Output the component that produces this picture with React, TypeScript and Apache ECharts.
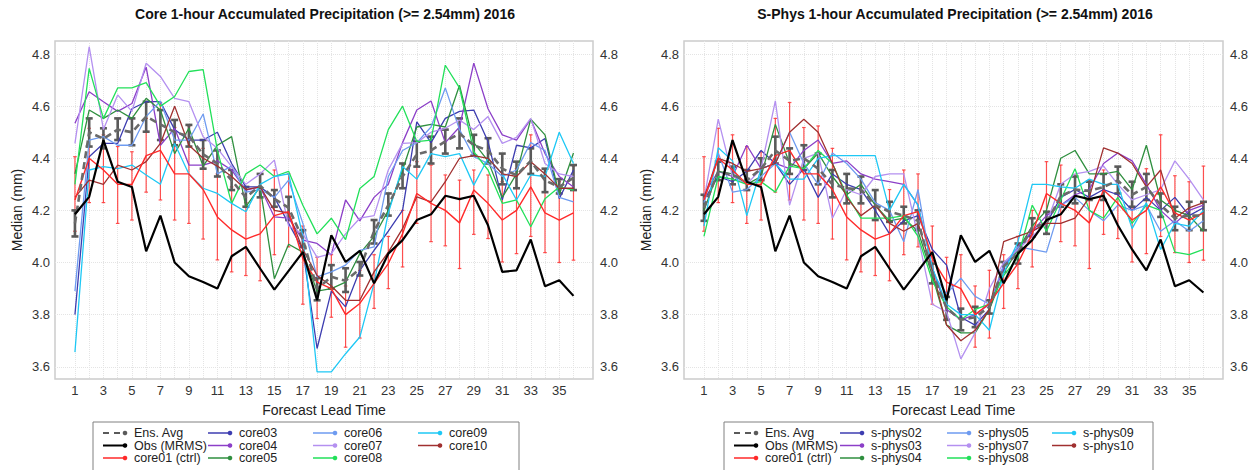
import React, { useEffect, useRef } from "react";
import * as echarts from "echarts";

const leadTimes = [1, 2, 3, 4, 5, 6, 7, 8, 9, 10, 11, 12, 13, 14, 15, 16, 17, 18, 19, 20, 21, 22, 23, 24, 25, 26, 27, 28, 29, 30, 31, 32, 33, 34, 35, 36];
const xTickLabels = [1, 3, 5, 7, 9, 11, 13, 15, 17, 19, 21, 23, 25, 27, 29, 31, 33, 35];
const yTickLabels = [3.6, 3.8, 4.0, 4.2, 4.4, 4.6, 4.8];

const titles = [
  "Core 1-hour Accumulated Precipitation (>= 2.54mm) 2016",
  "S-Phys 1-hour Accumulated Precipitation (>= 2.54mm) 2016",
];

// Observations (MRMS)
const obsLeft = [4.185, 4.252, 4.47, 4.31, 4.29, 4.043, 4.18, 4.0, 3.947, 3.925, 3.9, 4.024, 4.06, 3.977, 3.896, 3.968, 4.04, 3.855, 4.105, 4.002, 4.045, 3.92, 4.034, 4.086, 4.163, 4.185, 4.256, 4.243, 4.256, 4.143, 3.964, 3.97, 4.088, 3.909, 3.932, 3.872];
const obsRight = [4.185, 4.252, 4.47, 4.31, 4.29, 4.043, 4.18, 4.0, 3.947, 3.925, 3.9, 4.024, 4.06, 3.977, 3.896, 3.968, 4.04, 3.855, 4.105, 4.002, 4.045, 3.92, 4.034, 4.086, 4.163, 4.185, 4.256, 4.243, 4.256, 4.143, 4.05, 3.97, 4.088, 3.909, 3.932, 3.885];

// core01 (ctrl) with its spread
const ctrl = [4.24, 4.4, 4.355, 4.3, 4.3, 4.41, 4.43, 4.34, 4.34, 4.28, 4.175, 4.125, 4.09, 4.11, 4.18, 4.195, 4.015, 3.925, 3.9, 3.8, 3.843, 3.92, 3.996, 4.11, 4.265, 4.227, 4.2, 4.152, 4.278, 4.227, 4.163, 4.2, 4.29, 4.19, 4.163, 4.19];
const ctrlLo = [4.12, 4.23, 4.23, 4.15, 4.163, 4.27, 4.24, 4.163, 4.15, 4.09, 4.01, 3.964, 3.95, 3.93, 4.03, 4.06, 3.84, 3.785, 3.79, 3.675, 3.71, 3.824, 3.9, 3.983, 4.15, 4.08, 4.064, 3.977, 4.108, 4.092, 4.002, 4.034, 4.1, 4.038, 4.0, 4.009];
const ctrlHi = [4.406, 4.515, 4.49, 4.445, 4.425, 4.553, 4.614, 4.518, 4.524, 4.438, 4.34, 4.29, 4.23, 4.28, 4.355, 4.34, 4.14, 4.02, 4.03, 3.91, 3.97, 4.03, 4.1, 4.2, 4.387, 4.374, 4.336, 4.316, 4.355, 4.336, 4.31, 4.36, 4.49, 4.333, 4.31, 4.37];

// Ensemble average (core)
const ensCore = [4.15, 4.5, 4.475, 4.51, 4.5, 4.56, 4.53, 4.5, 4.485, 4.415, 4.38, 4.315, 4.25, 4.295, 4.245, 4.21, 4.09, 3.9, 3.945, 3.93, 3.975, 4.12, 4.22, 4.33, 4.415, 4.43, 4.465, 4.495, 4.45, 4.43, 4.36, 4.335, 4.39, 4.315, 4.29, 4.325];
const ensCoreLo = [4.1, 4.445, 4.438, 4.47, 4.45, 4.502, 4.47, 4.45, 4.445, 4.36, 4.33, 4.278, 4.214, 4.25, 4.214, 4.163, 4.06, 3.855, 3.9, 3.887, 3.95, 4.073, 4.18, 4.285, 4.368, 4.38, 4.418, 4.438, 4.41, 4.38, 4.3, 4.285, 4.34, 4.27, 4.265, 4.278];
const ensCoreHi = [4.2, 4.553, 4.515, 4.553, 4.553, 4.617, 4.585, 4.547, 4.528, 4.47, 4.43, 4.355, 4.29, 4.34, 4.278, 4.252, 4.124, 3.94, 3.99, 3.978, 4.002, 4.163, 4.265, 4.38, 4.464, 4.483, 4.51, 4.553, 4.49, 4.477, 4.418, 4.387, 4.438, 4.36, 4.32, 4.374];

// Ensemble average (s-phys)
const ensPhys = [4.21, 4.35, 4.335, 4.315, 4.36, 4.43, 4.39, 4.4, 4.36, 4.3, 4.285, 4.28, 4.22, 4.195, 4.18, 4.16, 3.96, 3.825, 3.78, 3.79, 3.83, 3.985, 4.035, 4.135, 4.15, 4.255, 4.28, 4.275, 4.29, 4.315, 4.26, 4.29, 4.22, 4.17, 4.18, 4.18];
const ensPhysLo = [4.16, 4.316, 4.3, 4.278, 4.316, 4.38, 4.34, 4.355, 4.3, 4.25, 4.227, 4.227, 4.163, 4.156, 4.15, 4.124, 3.92, 3.78, 3.74, 3.752, 3.804, 3.964, 3.996, 4.1, 4.11, 4.214, 4.227, 4.24, 4.24, 4.265, 4.214, 4.24, 4.175, 4.124, 4.124, 4.124];
const ensPhysHi = [4.26, 4.387, 4.368, 4.355, 4.4, 4.483, 4.438, 4.45, 4.418, 4.355, 4.34, 4.33, 4.278, 4.233, 4.214, 4.2, 3.996, 3.868, 3.823, 3.83, 3.855, 4.002, 4.073, 4.17, 4.195, 4.3, 4.33, 4.31, 4.34, 4.368, 4.31, 4.34, 4.265, 4.214, 4.233, 4.233];

// core members
const core03 = [3.8, 4.406, 4.457, 4.457, 4.59, 4.617, 4.617, 4.51, 4.47, 4.47, 4.5, 4.38, 4.29, 4.29, 4.25, 4.15, 4.05, 3.67, 3.89, 3.83, 3.97, 4.047, 4.12, 4.2, 4.54, 4.46, 4.553, 4.58, 4.585, 4.464, 4.24, 4.45, 4.44, 4.476, 4.245, 4.355];
const core04 = [4.534, 4.655, 4.617, 4.58, 4.61, 4.75, 4.45, 4.515, 4.374, 4.374, 4.39, 4.355, 4.278, 4.29, 4.175, 4.17, 4.086, 4.073, 4.03, 4.24, 4.16, 4.25, 4.3, 4.46, 4.585, 4.62, 4.46, 4.52, 4.765, 4.59, 4.49, 4.47, 4.55, 4.418, 4.33, 4.29];
const core05 = [4.34, 4.585, 4.553, 4.585, 4.553, 4.63, 4.585, 4.418, 4.515, 4.37, 4.45, 4.483, 4.214, 4.29, 3.938, 4.07, 4.04, 3.89, 3.9, 3.925, 4.034, 4.1, 4.2, 4.355, 4.52, 4.53, 4.52, 4.68, 4.46, 4.39, 4.25, 4.34, 4.55, 4.49, 4.26, 4.42];
const core06 = [3.89, 4.47, 4.483, 4.45, 4.45, 4.56, 4.62, 4.47, 4.47, 4.57, 4.34, 4.37, 4.27, 4.28, 4.25, 4.316, 4.15, 3.945, 3.964, 3.99, 4.047, 4.06, 4.33, 4.43, 4.46, 4.52, 4.67, 4.51, 4.406, 4.38, 4.33, 4.355, 4.46, 4.43, 4.25, 4.233];
const core07 = [4.457, 4.828, 4.51, 4.643, 4.58, 4.765, 4.714, 4.63, 4.617, 4.483, 4.438, 4.368, 4.3, 4.34, 4.393, 4.14, 4.11, 4.02, 4.034, 4.11, 4.17, 4.18, 4.355, 4.457, 4.46, 4.5, 4.515, 4.547, 4.51, 4.56, 4.457, 4.48, 4.553, 4.38, 4.34, 4.33];
const core08 = [4.3, 4.745, 4.553, 4.67, 4.67, 4.69, 4.6, 4.637, 4.733, 4.74, 4.43, 4.227, 4.34, 4.374, 4.33, 4.35, 4.22, 4.11, 4.17, 4.088, 4.284, 4.33, 4.51, 4.6, 4.464, 4.47, 4.757, 4.67, 4.425, 4.355, 4.227, 4.24, 4.137, 4.245, 4.29, 4.278];
const core09 = [3.656, 4.355, 4.368, 4.36, 4.374, 4.336, 4.3, 4.457, 4.34, 4.285, 4.265, 4.227, 4.195, 4.3, 4.33, 4.34, 4.1, 3.58, 3.58, 3.65, 3.714, 3.92, 4.19, 4.368, 4.32, 4.418, 4.406, 4.418, 4.297, 4.4, 4.34, 4.24, 4.336, 4.33, 4.5, 4.38];
const core10 = [4.25, 4.316, 4.3, 4.374, 4.355, 4.387, 4.457, 4.6, 4.45, 4.4, 4.37, 4.33, 4.28, 4.29, 4.2, 4.19, 4.05, 3.95, 3.91, 3.855, 3.855, 3.964, 4.04, 4.13, 4.252, 4.233, 4.31, 4.4, 4.41, 4.4, 4.34, 4.33, 4.387, 4.34, 4.285, 4.285];

// s-phys members
const sphys02 = [4.24, 4.33, 4.31, 4.35, 4.43, 4.38, 4.3, 4.36, 4.25, 4.34, 4.3, 4.28, 4.2, 4.11, 4.16, 4.18, 4.05, 3.99, 3.79, 3.76, 3.82, 3.99, 4.05, 4.12, 4.15, 4.25, 4.28, 4.25, 4.28, 4.26, 4.2, 4.25, 4.2, 4.25, 4.18, 4.21];
const sphys03 = [4.26, 4.35, 4.33, 4.45, 4.36, 4.38, 4.36, 4.43, 4.47, 4.38, 4.39, 4.34, 4.32, 4.31, 4.3, 4.22, 3.98, 3.82, 3.78, 3.8, 3.84, 3.98, 4.06, 4.12, 4.18, 4.22, 4.26, 4.28, 4.38, 4.42, 4.39, 4.3, 4.2, 4.15, 4.2, 4.22];
const sphys04 = [4.2, 4.35, 4.34, 4.3, 4.33, 4.53, 4.38, 4.36, 4.42, 4.33, 4.26, 4.3, 4.22, 4.16, 4.17, 4.12, 3.95, 3.76, 3.73, 3.73, 3.82, 3.96, 4.05, 4.14, 4.2, 4.4, 4.43, 4.34, 4.34, 4.35, 4.28, 4.45, 4.24, 4.2, 4.18, 4.12];
const sphys05 = [4.23, 4.42, 4.27, 4.28, 4.33, 4.38, 4.5, 4.38, 4.3, 4.42, 4.38, 4.32, 4.23, 4.2, 4.08, 4.28, 3.96, 3.88, 3.94, 3.87, 3.84, 3.99, 4.06, 4.05, 4.04, 4.22, 4.25, 4.2, 4.16, 4.22, 4.2, 4.22, 4.12, 4.16, 4.12, 4.16];
const sphys07 = [4.24, 4.55, 4.33, 4.3, 4.36, 4.62, 4.22, 4.4, 4.42, 4.17, 4.28, 4.26, 4.33, 4.34, 4.34, 4.1, 3.84, 3.81, 3.63, 3.73, 3.9, 4.0, 4.05, 4.1, 4.15, 4.3, 4.34, 4.35, 4.37, 4.3, 4.24, 4.26, 4.28, 4.39, 4.32, 4.24];
const sphys08 = [4.1, 4.33, 4.32, 4.3, 4.31, 4.27, 4.37, 4.36, 4.43, 4.38, 4.26, 4.17, 4.17, 4.17, 4.18, 4.1, 3.93, 3.83, 3.78, 3.82, 3.84, 3.95, 4.02, 4.22, 4.12, 4.24, 4.36, 4.2, 4.17, 4.25, 4.15, 4.22, 4.2, 4.04, 4.03, 4.05];
const sphys09 = [4.14, 4.44, 4.39, 4.18, 4.36, 4.38, 4.32, 4.32, 4.4, 4.41, 4.41, 4.41, 4.41, 4.2, 4.3, 4.22, 3.98, 3.84, 3.8, 3.8, 3.74, 3.96, 4.08, 4.3, 4.3, 4.29, 4.285, 4.32, 4.3, 4.3, 4.13, 4.23, 4.05, 4.15, 4.14, 4.2];
const sphys10 = [4.25, 4.4, 4.38, 4.35, 4.36, 4.38, 4.5, 4.55, 4.5, 4.38, 4.25, 4.18, 4.22, 4.15, 4.12, 4.15, 3.97, 3.76, 3.7, 3.74, 3.82, 4.08, 4.1, 4.12, 4.15, 4.15, 4.17, 4.25, 4.44, 4.42, 4.38, 4.29, 4.355, 4.17, 4.21, 4.23];

const memberColors = ["#3D3DB0", "#8C3FC8", "#2F8F3F", "#6E9BF0", "#B490F0", "#22E05A", "#1EC8F5", "#A03030"];
const coreNames = ["core03", "core04", "core05", "core06", "core07", "core08", "core09", "core10"];
const physNames = ["s-phys02", "s-phys03", "s-phys04", "s-phys05", "s-phys07", "s-phys08", "s-phys09", "s-phys10"];
const coreMembers = [core03, core04, core05, core06, core07, core08, core09, core10];
const physMembers = [sphys02, sphys03, sphys04, sphys05, sphys07, sphys08, sphys09, sphys10];

const FONT = "'Liberation Sans', Arial, Helvetica, sans-serif";
const RED = "#FF2A2A";
const GREY = "#5A5A5A";

function pairs(values: number[]) {
  return leadTimes.map((t, i) => [t, values[i]]);
}

function lineSeries(name: string, values: number[], color: string, width: number, p: number, dashed = false) {
  return {
    type: "line",
    name: name + (p === 0 ? "" : " "),
    data: pairs(values),
    xAxisIndex: p,
    yAxisIndex: p * 2,
    showSymbol: false,
    symbol: "none",
    silent: true,
    lineStyle: { color, width, type: dashed ? [7, 4] : "solid" },
    itemStyle: { color },
  };
}

function errSeries(lo: number[], hi: number[], color: string, width: number, cap: number, p: number) {
  return {
    type: "custom",
    xAxisIndex: p,
    yAxisIndex: p * 2,
    silent: true,
    data: leadTimes.map((t, i) => [t, lo[i], hi[i]]),
    encode: { x: 0, y: [1, 2] },
    renderItem: (_params: any, api: any) => {
      const x = api.value(0);
      const a = api.coord([x, api.value(1)]);
      const b = api.coord([x, api.value(2)]);
      const st = { stroke: color, lineWidth: width };
      return {
        type: "group",
        children: [
          { type: "line", shape: { x1: a[0], y1: a[1], x2: b[0], y2: b[1] }, style: st },
          { type: "line", shape: { x1: a[0] - cap, y1: a[1], x2: a[0] + cap, y2: a[1] }, style: st },
          { type: "line", shape: { x1: b[0] - cap, y1: b[1], x2: b[0] + cap, y2: b[1] }, style: st },
        ],
      };
    },
  };
}

function legendGraphics(boxLeft: number, boxWidth: number, colX: number[], names: string[]) {
  const rows = [433, 445.5, 458];
  const items: any[] = [];
  items.push({
    type: "rect",
    shape: { x: boxLeft, y: 422, width: boxWidth, height: 60 },
    style: { fill: "#fff", stroke: "#808080", lineWidth: 1 },
  });
  const entries: { c: number; r: number; label: string; color: string; dashed?: boolean; w: number }[] = [
    { c: 0, r: 0, label: "Ens. Avg", color: GREY, dashed: true, w: 2 },
    { c: 0, r: 1, label: "Obs (MRMS)", color: "#000", w: 2 },
    { c: 0, r: 2, label: "core01 (ctrl)", color: RED, w: 1.5 },
  ];
  names.forEach((n, i) => {
    entries.push({ c: 1 + Math.floor(i / 3), r: i % 3, label: n, color: memberColors[i], w: 1.5 });
  });
  entries.forEach((e) => {
    const x0 = colX[e.c];
    const y = rows[e.r];
    items.push({
      type: "line",
      shape: { x1: x0, y1: y, x2: x0 + 21, y2: y },
      style: { stroke: e.color, lineWidth: e.w, lineDash: e.dashed ? [6, 5] : null },
    });
    items.push({ type: "circle", shape: { cx: x0 + 22, cy: y, r: 2.3 }, style: { fill: e.color } });
    items.push({
      type: "text",
      x: x0 + 31,
      y: y,
      style: { text: e.label, fill: "#222", fontSize: 12.5, fontFamily: FONT, verticalAlign: "middle", textAlign: "left" },
    });
  });
  return items;
}

function buildOption() {
  const gridsPx = [
    { left: 55, width: 538 },
    { left: 684, width: 539 },
  ];
  const grid = gridsPx.map((g) => ({
    left: g.left,
    top: 41,
    width: g.width,
    height: 338,
    show: true,
    borderColor: "#cccccc",
    borderWidth: 1.5,
    backgroundColor: "#fff",
  }));

  const xAxis = [0, 1].map((p) => ({
    gridIndex: p,
    type: "value",
    min: -0.4,
    max: 37.37,
    axisLine: { show: false },
    axisTick: { show: false, customValues: leadTimes },
    axisLabel: {
      customValues: xTickLabels,
      color: "#333",
      fontSize: 13,
      fontFamily: FONT,
      margin: 5,
    },
    splitLine: { show: true, lineStyle: { color: "#e4e4e4", type: "dotted", width: 1 } },
    name: "Forecast Lead Time",
    nameLocation: "middle",
    nameGap: 24,
    nameTextStyle: { fontSize: 14, color: "#222", fontFamily: FONT },
  }));

  const yAxis: any[] = [];
  [0, 1].forEach((p) => {
    yAxis.push({
      gridIndex: p,
      type: "value",
      min: 3.553,
      max: 4.85,
      position: "left",
      axisLine: { show: false },
      axisTick: { show: false, customValues: yTickLabels },
      axisLabel: {
        customValues: yTickLabels,
        formatter: (v: number) => v.toFixed(1),
        color: "#333",
        fontSize: 13,
        fontFamily: FONT,
        margin: 5,
      },
      splitLine: { show: true, lineStyle: { color: "#e4e4e4", type: "dotted", width: 1 } },
      name: "Median (mm)",
      nameLocation: "middle",
      nameGap: 31,
      nameRotate: 90,
      nameTextStyle: { fontSize: 14, color: "#222", fontFamily: FONT },
    });
    yAxis.push({
      gridIndex: p,
      type: "value",
      min: 3.553,
      max: 4.85,
      position: "right",
      axisLine: { show: false },
      axisTick: { show: false, customValues: yTickLabels },
      axisLabel: {
        customValues: yTickLabels,
        formatter: (v: number) => v.toFixed(1),
        color: "#333",
        fontSize: 13,
        fontFamily: FONT,
        margin: 7,
      },
      splitLine: { show: false },
    });
  });

  const series: any[] = [];
  const panels = [
    { members: coreMembers, names: coreNames, ens: ensCore, lo: ensCoreLo, hi: ensCoreHi, obs: obsLeft },
    { members: physMembers, names: physNames, ens: ensPhys, lo: ensPhysLo, hi: ensPhysHi, obs: obsRight },
  ];
  panels.forEach((pd, p) => {
    pd.members.forEach((vals, i) => {
      series.push(lineSeries(pd.names[i], vals, memberColors[i], 1.3, p));
    });
    series.push(errSeries(ctrlLo, ctrlHi, "rgba(255,50,50,0.85)", 1.2, 1.8, p));
    series.push(lineSeries("core01 (ctrl)", ctrl, RED, 1.4, p));
    series.push(lineSeries("Ens. Avg", pd.ens, "#6a6a6a", 2.6, p, true));
    series.push(errSeries(pd.lo, pd.hi, GREY, 2.6, 3.5, p));
    series.push(lineSeries("Obs (MRMS)", pd.obs, "#000", 2.2, p));
  });

  const graphic: any[] = [
    {
      type: "text",
      x: 325,
      y: 14,
      style: { text: titles[0], fill: "#111", fontSize: 14, fontWeight: "bold", fontFamily: FONT, textAlign: "center", verticalAlign: "middle" },
    },
    {
      type: "text",
      x: 955,
      y: 14,
      style: { text: titles[1], fill: "#111", fontSize: 14, fontWeight: "bold", fontFamily: FONT, textAlign: "center", verticalAlign: "middle" },
    },
    ...legendGraphics(93, 426, [103, 208, 313, 418], coreNames),
    ...legendGraphics(724, 429, [734, 840, 947, 1052], physNames),
  ];

  return {
    animation: false,
    backgroundColor: "#fff",
    textStyle: { fontFamily: FONT },
    grid,
    xAxis,
    yAxis,
    series,
    graphic,
  };
}

export default function App() {
  const ref = useRef<HTMLDivElement>(null);
  useEffect(() => {
    if (!ref.current) return;
    const chart = echarts.init(ref.current, null, { renderer: "svg" });
    chart.setOption(buildOption() as any);
    return () => chart.dispose();
  }, []);
  return <div ref={ref} style={{ position: "absolute", left: 0, top: 0, width: 1256, height: 470 }} />;
}
